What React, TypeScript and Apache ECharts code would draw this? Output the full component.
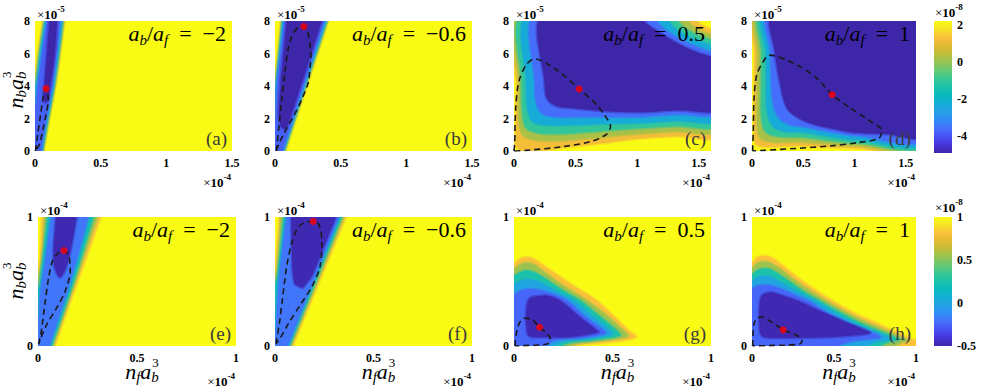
import React, { useEffect, useRef } from 'react';
import * as echarts from 'echarts';

type Pt = [number, number];

// ---------------- data ----------------
const PARULA = ['#3E26A8', '#4533D9', '#4851F2', '#4570FC', '#308CF5', '#26A1E6', '#14ADD6', '#08BABF', '#1AC2AB', '#38C794', '#66C973', '#94C454', '#BFBD3A', '#E0BA33', '#FCBF3B', '#F5E326', '#F9FB15'];

const topColorRange: Pt = [-4.9, 2.2];
const bottomColorRange: Pt = [-0.5, 1];
const topColorbarTicks = [-4, -2, 0, 2];
const bottomColorbarTicks = [-0.5, 0, 0.5, 1];

const panelLetters = ['(a)', '(b)', '(c)', '(d)', '(e)', '(f)', '(g)', '(h)'];
const ratioLabels = ['\u22122', '\u22120.6', '0.5', '1', '\u22122', '\u22120.6', '0.5', '1'];
const xMaxes = [1.5, 1.5, 1.6, 1.6, 1, 1, 1, 1];
const yMaxes = [8, 8, 8, 8, 1, 1, 1, 1];
const xTicksTop = [0, 0.5, 1, 1.5];
const xTicksBottom = [0, 0.5, 1];
const yTicksTop = [0, 2, 4, 6, 8];
const yTicksBottom = [0, 1];

// level-set regions (value < level) of each panel, outermost first
const levelsA = [1.0, -1.0, -2.5, -3.8, -4.9];
const shapesA: Pt[][] = [
  [[-0.02, -0.5], [0.06, -0.5], [0.066, 0], [0.1, 1.6], [0.16, 4.2], [0.2, 6.5], [0.224, 8], [0.23, 8.5], [0.068, 8.5], [0.06, 8], [0.022, 6], [-0.003, 4.2], [-0.02, 3.8]],
  [[-0.02, -0.5], [0.054, -0.5], [0.06, 0], [0.094, 1.6], [0.153, 4.2], [0.192, 6.5], [0.215, 8], [0.22, 8.5], [0.078, 8.5], [0.07, 8], [0.032, 6], [0.005, 4.2], [-0.02, 3.5]],
  [[-0.02, -0.5], [0.048, -0.5], [0.054, 0], [0.087, 1.6], [0.145, 4.2], [0.184, 6.5], [0.205, 8], [0.21, 8.5], [0.088, 8.5], [0.08, 8], [0.042, 6], [0.012, 4.2], [-0.02, 3.2]],
  [[-0.02, -0.5], [0.04, -0.5], [0.045, 0], [0.078, 1.6], [0.135, 4.2], [0.172, 6.5], [0.19, 8], [0.195, 8.5], [0.1, 8.5], [0.092, 8], [0.055, 6], [0.025, 4.2], [0.0, 2.5], [-0.02, 2]],
  [[0.075, 3.0], [0.095, 3.1], [0.12, 4.2], [0.15, 6.0], [0.168, 8], [0.168, 8.5], [0.118, 8.5], [0.11, 8], [0.09, 6], [0.073, 4.2], [0.066, 3.4]],
];
const loopA: Pt[] = [[0.003, 0.0], [0.02, 1.0], [0.04, 2.1], [0.058, 3.1], [0.07, 3.65], [0.084, 3.84], [0.097, 3.6], [0.101, 3.1], [0.085, 2.3], [0.06, 1.3], [0.033, 0.4], [0.003, 0.0]];
const dotA: Pt = [0.084, 3.84];

const levelsB = [1.0, -1.0, -2.5, -3.8, -4.9];
const shapesB: Pt[][] = [
  [[-0.02, -0.5], [0.07, -0.5], [0.078, 0], [0.405, 8], [0.43, 8.5], [0.05, 8.5], [0.045, 8], [0.0, 4.3], [-0.02, 4.0]],
  [[-0.02, -0.5], [0.064, -0.5], [0.072, 0], [0.397, 8], [0.42, 8.5], [0.058, 8.5], [0.053, 8], [0.006, 4.3], [-0.02, 3.6]],
  [[-0.02, -0.5], [0.058, -0.5], [0.066, 0], [0.388, 8], [0.41, 8.5], [0.066, 8.5], [0.061, 8], [0.012, 4.3], [-0.02, 3.2]],
  [[-0.01, -0.5], [0.05, -0.5], [0.058, 0], [0.375, 8], [0.395, 8.5], [0.078, 8.5], [0.073, 8], [0.018, 4.3], [0.004, 2], [-0.01, 0.5]],
  [[0.028, 2.2], [0.045, 1.5], [0.075, 1.35], [0.105, 1.75], [0.355, 8], [0.36, 8.5], [0.095, 8.5], [0.089, 8], [0.043, 4.2]],
];
const loopB: Pt[] = [[0.01, 0.0], [0.013, 0.2], [0.03, 1.5], [0.05, 3.1], [0.075, 4.8], [0.1, 6.3], [0.125, 7.0], [0.152, 7.4], [0.18, 7.62], [0.215, 7.68], [0.24, 7.5], [0.253, 7.2], [0.27, 6.3], [0.274, 5.9], [0.265, 5.0], [0.253, 4.2], [0.21, 3.3], [0.165, 2.5], [0.11, 1.7], [0.063, 1.0], [0.03, 0.45], [0.01, 0.0]];
const dotB: Pt = [0.22, 7.66];

const levelsC = [1.2, 0.2, -1.0, -2.3, -3.6, -4.9];
const shapesC: Pt[][] = [
  [[0.02, 8.5], [0.02, 4], [0.015, 1.5], [0.02, 0.3], [0.1, -0.1], [0.3, 0.1], [0.5, 0.3], [0.75, 0.5], [1.0, 0.75], [1.3, 0.9], [1.7, 1.05], [1.7, 7.45], [1.6, 7.5], [1.5, 7.9], [1.45, 8.5]],
  [[0.045, 8.5], [0.04, 4], [0.04, 1.8], [0.07, 1.0], [0.15, 0.7], [0.3, 0.62], [0.5, 0.7], [0.75, 0.88], [1.0, 1.05], [1.3, 1.2], [1.7, 1.4], [1.7, 7.1], [1.6, 7.15], [1.45, 7.7], [1.33, 8.5]],
  [[0.08, 8.5], [0.062, 4], [0.07, 2.2], [0.1, 1.4], [0.2, 1.1], [0.35, 1.05], [0.5, 1.1], [0.75, 1.25], [1.0, 1.38], [1.3, 1.52], [1.7, 1.7], [1.7, 6.8], [1.6, 6.85], [1.4, 7.5], [1.23, 8.5]],
  [[0.12, 8.5], [0.1, 4], [0.11, 2.6], [0.15, 1.8], [0.25, 1.6], [0.5, 1.6], [0.75, 1.68], [1.0, 1.72], [1.3, 1.85], [1.7, 2.02], [1.7, 6.45], [1.6, 6.5], [1.35, 7.3], [1.15, 8.5]],
  [[0.18, 8.5], [0.17, 4], [0.18, 3.0], [0.23, 2.3], [0.35, 2.1], [0.5, 2.1], [0.75, 2.1], [1.0, 2.1], [1.3, 2.25], [1.7, 2.42], [1.7, 6.05], [1.6, 6.1], [1.4, 6.7], [1.22, 7.5], [1.07, 8.5]],
  [[0.236, 8.5], [0.25, 4], [0.27, 3.2], [0.35, 2.75], [0.5, 2.62], [0.75, 2.45], [1.0, 2.38], [1.3, 2.5], [1.7, 2.65], [1.7, 5.75], [1.6, 5.8], [1.4, 6.35], [1.2, 7.2], [1.05, 8], [1.0, 8.5]],
];
const loopC: Pt[] = [[0, 0], [0.005, 0.41], [0.014, 2.65], [0.04, 4.29], [0.1, 5.31], [0.168, 5.67], [0.344, 5.0], [0.529, 3.82], [0.67, 2.86], [0.751, 2.04], [0.784, 1.53], [0.751, 1.02], [0.616, 0.57], [0.399, 0.27], [0.1, 0.04], [0, 0]];
const dotC: Pt = [0.529, 3.82];

const levelsD = [1.2, 0.2, -1.0, -2.3, -3.6, -4.9];
const shapesD: Pt[][] = [
  [[0.03, 8.5], [0.025, 6], [0.02, 4], [0.02, 1.2], [0.04, 0.4], [0.15, 0.25], [0.3, 0.28], [0.5, 0.3], [0.75, 0.23], [1.0, 0.17], [1.7, 0.14], [1.7, 8.5]],
  [[0.06, 8.5], [0.055, 6], [0.05, 4], [0.05, 1.6], [0.08, 0.8], [0.2, 0.55], [0.35, 0.55], [0.5, 0.55], [0.75, 0.42], [1.0, 0.33], [1.7, 0.29], [1.7, 8.5]],
  [[0.095, 8.5], [0.092, 6], [0.09, 4], [0.09, 2.2], [0.13, 1.2], [0.25, 0.9], [0.5, 0.85], [0.75, 0.65], [1.0, 0.5], [1.7, 0.46], [1.7, 8.5]],
  [[0.13, 8.5], [0.135, 6], [0.14, 4], [0.145, 2.6], [0.2, 1.55], [0.32, 1.2], [0.5, 1.15], [0.75, 0.9], [1.0, 0.7], [1.7, 0.63], [1.7, 8.5]],
  [[0.17, 8.5], [0.18, 6], [0.19, 4], [0.21, 2.8], [0.27, 2.0], [0.38, 1.6], [0.5, 1.5], [0.75, 1.2], [1.0, 0.95], [1.7, 0.83], [1.7, 8.5]],
  [[0.21, 8.5], [0.225, 6], [0.27, 4.3], [0.34, 2.65], [0.45, 2.05], [0.6, 1.65], [0.8, 1.35], [1.0, 1.12], [1.3, 1.05], [1.7, 1.0], [1.7, 7.8], [1.6, 7.95], [1.55, 8.5]],
];
const loopD: Pt[] = [[0.0065, 0], [0.0065, 0.1], [0.013, 1.22], [0.02, 3.26], [0.046, 4.68], [0.11, 5.5], [0.17, 5.9], [0.437, 5.3], [0.632, 4.48], [0.782, 3.46], [0.958, 2.65], [1.153, 1.83], [1.268, 1.26], [1.235, 0.77], [1.023, 0.51], [0.762, 0.31], [0.437, 0.16], [0.11, 0.04], [0.0065, 0]];
const dotD: Pt = [0.782, 3.46];

const levelsE = [0.82, 0.55, 0.2, -0.2, -0.48];
const shapesE: Pt[][] = [
  [[-0.05, -0.05], [0.078, -0.05], [0.085, 0], [0.2, 0.5], [0.318, 1.0], [0.33, 1.05], [0.022, 1.05], [0.02, 1.0], [0.0, 0.58], [-0.05, 0.5]],
  [[-0.05, -0.05], [0.07, -0.05], [0.077, 0], [0.19, 0.5], [0.3, 1.0], [0.31, 1.05], [0.035, 1.05], [0.033, 1.0], [0.008, 0.58], [-0.05, 0.45]],
  [[-0.05, -0.05], [0.062, -0.05], [0.069, 0], [0.18, 0.5], [0.28, 1.0], [0.29, 1.05], [0.05, 1.05], [0.048, 1.0], [0.016, 0.58], [0, 0.45], [-0.05, 0.4]],
  [[-0.05, -0.05], [0.052, -0.05], [0.058, 0], [0.165, 0.5], [0.255, 1.0], [0.26, 1.05], [0.068, 1.05], [0.066, 1.0], [0.03, 0.6], [0.01, 0.4], [0.0, 0.2], [-0.05, 0.1]],
  [[0.085, 0.6], [0.11, 0.53], [0.14, 0.6], [0.17, 0.78], [0.195, 1.0], [0.2, 1.05], [0.09, 1.05], [0.09, 1.0], [0.08, 0.8], [0.078, 0.68]],
];
const loopE: Pt[] = [[0.003, 0.013], [0.017, 0.117], [0.037, 0.351], [0.054, 0.532], [0.074, 0.662], [0.101, 0.719], [0.131, 0.74], [0.155, 0.701], [0.163, 0.584], [0.138, 0.429], [0.096, 0.299], [0.045, 0.169], [0.012, 0.052], [0.003, 0.013]];
const dotE: Pt = [0.131, 0.74];

const levelsF = [0.82, 0.55, 0.2, -0.2, -0.48];
const shapesF: Pt[][] = [
  [[-0.02, -0.05], [0.085, -0.05], [0.09, 0], [0.36, 1.0], [0.37, 1.05], [0.03, 1.05], [0.022, 1.0], [0.0, 0.55], [-0.02, 0.5]],
  [[-0.02, -0.05], [0.077, -0.05], [0.082, 0], [0.35, 1.0], [0.355, 1.05], [0.035, 1.05], [0.03, 1.0], [0.006, 0.55], [-0.02, 0.45]],
  [[-0.02, -0.05], [0.069, -0.05], [0.074, 0], [0.338, 1.0], [0.343, 1.05], [0.048, 1.05], [0.045, 1.0], [0.013, 0.55], [-0.02, 0.35]],
  [[0.0, -0.05], [0.06, -0.05], [0.065, 0], [0.325, 1.0], [0.33, 1.05], [0.062, 1.05], [0.058, 1.0], [0.022, 0.55], [0.008, 0.25]],
  [[0.1, 0.48], [0.14, 0.45], [0.19, 0.55], [0.31, 1.0], [0.315, 1.05], [0.085, 1.05], [0.082, 1.0], [0.088, 0.6]],
];
const loopF: Pt[] = [[0.005, 0.018], [0.022, 0.173], [0.037, 0.354], [0.059, 0.612], [0.084, 0.793], [0.118, 0.922], [0.16, 0.961], [0.194, 0.966], [0.225, 0.935], [0.238, 0.793], [0.228, 0.612], [0.186, 0.457], [0.127, 0.315], [0.068, 0.173], [0.025, 0.057], [0.005, 0.018]];
const dotF: Pt = [0.194, 0.966];

const levelsG = [0.82, 0.55, 0.25, 0.0, -0.25, -0.48];
const shapesG: Pt[][] = [
  [[-0.05, -0.05], [0.25, -0.05], [0.32, 0.005], [0.45, 0.025], [0.56, 0.045], [0.62, 0.07], [0.6, 0.1], [0.58, 0.123], [0.5, 0.24], [0.42, 0.354], [0.33, 0.44], [0.25, 0.52], [0.15, 0.625], [0.1, 0.675], [0.065, 0.69], [0.03, 0.675], [0, 0.64], [-0.05, 0.63]],
  [[-0.05, -0.05], [0.22, -0.05], [0.3, 0.01], [0.42, 0.035], [0.52, 0.055], [0.58, 0.075], [0.57, 0.1], [0.554, 0.123], [0.46, 0.25], [0.368, 0.354], [0.29, 0.43], [0.21, 0.51], [0.14, 0.59], [0.097, 0.635], [0.06, 0.645], [0.03, 0.63], [0, 0.6], [-0.05, 0.59]],
  [[-0.05, -0.05], [0.19, -0.05], [0.27, 0.02], [0.4, 0.045], [0.5, 0.065], [0.54, 0.085], [0.53, 0.105], [0.52, 0.123], [0.42, 0.25], [0.334, 0.354], [0.26, 0.42], [0.19, 0.49], [0.13, 0.55], [0.097, 0.575], [0.06, 0.585], [0.03, 0.57], [0, 0.545], [-0.05, 0.54]],
  [[-0.05, -0.05], [0.16, -0.05], [0.24, 0.03], [0.36, 0.055], [0.46, 0.075], [0.5, 0.095], [0.49, 0.115], [0.486, 0.123], [0.39, 0.24], [0.3, 0.354], [0.23, 0.41], [0.16, 0.47], [0.12, 0.5], [0.097, 0.51], [0.06, 0.515], [0.03, 0.5], [0, 0.48], [-0.05, 0.47]],
  [[-0.05, -0.05], [0.12, -0.05], [0.2, 0.04], [0.32, 0.06], [0.42, 0.08], [0.465, 0.1], [0.453, 0.123], [0.36, 0.23], [0.266, 0.354], [0.2, 0.4], [0.14, 0.43], [0.097, 0.44], [0.06, 0.44], [0.03, 0.425], [0, 0.4], [-0.05, 0.39]],
  [[0.063, 0.3], [0.065, 0.12], [0.08, 0.075], [0.15, 0.068], [0.28, 0.07], [0.38, 0.09], [0.43, 0.11], [0.42, 0.123], [0.33, 0.23], [0.232, 0.354], [0.17, 0.39], [0.12, 0.385], [0.08, 0.37]],
];
const loopG: Pt[] = [[0.005, 0.0], [0.01, 0.08], [0.025, 0.17], [0.05, 0.215], [0.085, 0.21], [0.13, 0.146], [0.165, 0.1], [0.185, 0.055], [0.175, 0.02], [0.12, 0.008], [0.05, 0.003], [0.005, 0.0]];
const dotG: Pt = [0.13, 0.146];

const levelsH = [0.82, 0.55, 0.25, 0.0, -0.25, -0.48];
const shapesH: Pt[][] = [
  [[-0.05, -0.05], [1.05, -0.05], [1.05, 0.025], [0.98, 0.05], [0.93, 0.08], [0.84, 0.13], [0.72, 0.2], [0.6, 0.27], [0.49, 0.35], [0.38, 0.44], [0.28, 0.53], [0.18, 0.63], [0.12, 0.685], [0.07, 0.7], [0.03, 0.685], [0, 0.645], [-0.05, 0.64]],
  [[-0.05, -0.05], [0.8, -0.05], [0.9, 0.02], [0.95, 0.045], [0.9, 0.075], [0.81, 0.125], [0.69, 0.19], [0.57, 0.265], [0.46, 0.345], [0.36, 0.425], [0.26, 0.51], [0.17, 0.6], [0.11, 0.645], [0.07, 0.655], [0.03, 0.64], [0, 0.605], [-0.05, 0.6]],
  [[-0.05, -0.05], [0.7, -0.05], [0.82, 0.025], [0.9, 0.05], [0.85, 0.08], [0.76, 0.125], [0.65, 0.185], [0.53, 0.265], [0.42, 0.345], [0.33, 0.41], [0.24, 0.49], [0.16, 0.56], [0.11, 0.595], [0.07, 0.6], [0.03, 0.585], [0, 0.555], [-0.05, 0.55]],
  [[-0.05, -0.05], [0.6, -0.05], [0.75, 0.03], [0.85, 0.055], [0.8, 0.085], [0.72, 0.125], [0.61, 0.185], [0.5, 0.26], [0.39, 0.345], [0.3, 0.405], [0.22, 0.46], [0.15, 0.51], [0.11, 0.535], [0.07, 0.54], [0.03, 0.53], [0, 0.505], [-0.05, 0.5]],
  [[-0.05, -0.05], [0.4, -0.05], [0.6, 0.035], [0.78, 0.065], [0.76, 0.09], [0.68, 0.125], [0.57, 0.185], [0.46, 0.255], [0.35, 0.345], [0.27, 0.39], [0.2, 0.43], [0.14, 0.46], [0.1, 0.47], [0.07, 0.47], [0.03, 0.465], [0, 0.445], [-0.05, 0.44]],
  [[0.045, 0.3], [0.05, 0.1], [0.08, 0.068], [0.2, 0.062], [0.4, 0.065], [0.6, 0.08], [0.71, 0.095], [0.72, 0.105], [0.68, 0.13], [0.6, 0.17], [0.5, 0.225], [0.4, 0.28], [0.29, 0.345], [0.2, 0.385], [0.14, 0.41], [0.1, 0.415], [0.06, 0.39]],
];
const loopH: Pt[] = [[0.004, 0.0], [0.006, 0.08], [0.012, 0.17], [0.03, 0.215], [0.06, 0.225], [0.1, 0.2], [0.15, 0.16], [0.19, 0.125], [0.24, 0.1], [0.29, 0.07], [0.305, 0.04], [0.29, 0.015], [0.2, 0.008], [0.1, 0.003], [0.004, 0.0]];
const dotH: Pt = [0.19, 0.125];

// ---------------- layout & style ----------------
const SERIF = 'Liberation Serif';
const BOXES = [
  { left: 35, top: 21, width: 197, height: 130 },
  { left: 275, top: 21, width: 197, height: 130 },
  { left: 514, top: 21, width: 197, height: 130 },
  { left: 752, top: 21, width: 164, height: 130 },
  { left: 38, top: 217, width: 198, height: 129 },
  { left: 275, top: 217, width: 197, height: 129 },
  { left: 514, top: 217, width: 197, height: 129 },
  { left: 752, top: 217, width: 164, height: 129 },
];
const CB_BOXES = [
  { left: 934, top: 21, width: 18, height: 132 },
  { left: 934, top: 217, width: 18, height: 129 },
];
const SMOOTH = [0.3, 0.12, 0.35, 0.35, 0.3, 0.12, 0.35, 0.35];
const MATH_SIZE = 22;
const SUB_SIZE = 15;
const SUP_SIZE = 13;

const titleRich = {
  i: { fontFamily: SERIF, fontStyle: 'italic', fontSize: MATH_SIZE, lineHeight: 28, fill: '#000', align: 'left' },
  n: { fontFamily: SERIF, fontSize: MATH_SIZE, lineHeight: 28, fill: '#000', align: 'left' },
  s: { fontFamily: SERIF, fontStyle: 'italic', fontSize: SUB_SIZE, lineHeight: SUB_SIZE, verticalAlign: 'bottom', fill: '#000', align: 'left' },
};
const expRich = {
  x: { fontFamily: SERIF, fontSize: 13, lineHeight: 20, fill: '#000', align: 'left' },
  n: { fontFamily: SERIF, fontWeight: 'bold', fontSize: 13, lineHeight: 20, fill: '#000', align: 'left' },
  p: { fontFamily: SERIF, fontWeight: 'bold', fontSize: 9, lineHeight: 9, verticalAlign: 'top', fill: '#000', align: 'left' },
};

let measureCtx: CanvasRenderingContext2D | null = null;
function textWidth(text: string, font: string) {
  if (!measureCtx) measureCtx = document.createElement('canvas').getContext('2d');
  if (!measureCtx) return text.length * 8;
  measureCtx.font = font;
  return measureCtx.measureText(text).width;
}

function expText(x: number, y: number, power: string, align: string) {
  return {
    type: 'text', x, y, silent: true, z: 10,
    style: { text: `{x|\u00d7}{n|10}{p|${power}}`, rich: expRich, align, verticalAlign: 'middle' },
  };
}

function glyph(text: string, x: number, y: number, size: number, italic: boolean) {
  return {
    type: 'text', x, y,
    style: {
      text, fontFamily: SERIF, fontSize: size, fontStyle: italic ? 'italic' : 'normal',
      lineHeight: Math.round(size * 0.6), fill: '#000', align: 'left', verticalAlign: 'middle',
    },
  };
}

// n_{sub} a_b^3 with the 3 stacked over the b
function densityLabel(x: number, y: number, sub: string, rotation: number) {
  const it = `italic ${MATH_SIZE}px ${SERIF}`;
  const its = `italic ${SUB_SIZE}px ${SERIF}`;
  const wN = textWidth('n', it);
  const wSub = textWidth(sub, its);
  const wA = textWidth('a', it);
  const wB = textWidth('b', its);
  const total = wN + wSub + wA + wB;
  const x0 = -total / 2;
  return {
    type: 'group', x, y, rotation, silent: true, z: 10,
    children: [
      glyph('n', x0, 0, MATH_SIZE, true),
      glyph(sub, x0 + wN, 6, SUB_SIZE, true),
      glyph('a', x0 + wN + wSub, 0, MATH_SIZE, true),
      glyph('b', x0 + wN + wSub + wA, 6, SUB_SIZE, true),
      glyph('3', x0 + wN + wSub + wA + 1, -9, SUP_SIZE, false),
    ],
  };
}

function buildOption() {
  const panels = [
    { levels: levelsA, shapes: shapesA, loop: loopA, dot: dotA },
    { levels: levelsB, shapes: shapesB, loop: loopB, dot: dotB },
    { levels: levelsC, shapes: shapesC, loop: loopC, dot: dotC },
    { levels: levelsD, shapes: shapesD, loop: loopD, dot: dotD },
    { levels: levelsE, shapes: shapesE, loop: loopE, dot: dotE },
    { levels: levelsF, shapes: shapesF, loop: loopF, dot: dotF },
    { levels: levelsG, shapes: shapesG, loop: loopG, dot: dotG },
    { levels: levelsH, shapes: shapesH, loop: loopH, dot: dotH },
  ];
  const grid: any[] = [];
  const xAxis: any[] = [];
  const yAxis: any[] = [];
  const series: any[] = [];
  const graphic: any[] = [];
  const topHeat: number[] = [];
  const bottomHeat: number[] = [];
  const tickLabel = { fontFamily: SERIF, fontWeight: 'bold', fontSize: 12, lineHeight: 11, color: '#000' };

  panels.forEach((p, i) => {
    const b = BOXES[i];
    const top = i < 4;
    grid.push({
      left: b.left, top: b.top, width: b.width, height: b.height,
      containLabel: false, outerBoundsMode: 'none',
      show: true, backgroundColor: PARULA[PARULA.length - 1], borderWidth: 0,
    });
    xAxis.push({
      gridIndex: i, type: 'value', min: 0, max: xMaxes[i],
      axisLine: { show: false }, axisTick: { show: false }, splitLine: { show: false },
      axisLabel: { ...tickLabel, margin: 6, customValues: top ? xTicksTop : xTicksBottom },
    });
    yAxis.push({
      gridIndex: i, type: 'value', min: 0, max: yMaxes[i],
      axisLine: { show: false }, axisTick: { show: false }, splitLine: { show: false },
      axisLabel: { ...tickLabel, margin: 5, customValues: top ? yTicksTop : yTicksBottom },
    });
    const shapes = p.shapes;
    const sm = SMOOTH[i];
    (top ? topHeat : bottomHeat).push(series.length);
    series.push({
      type: 'custom', xAxisIndex: i, yAxisIndex: i, clip: true, silent: true, z: 1,
      data: p.levels.map((v, k) => [v, k]),
      renderItem: (_params: any, api: any) => {
        const k = api.value(1) as number;
        const pts = shapes[k].map((q) => api.coord(q));
        const col = api.visual('color');
        return {
          type: 'polygon', shape: { points: pts, smooth: sm },
          style: { fill: col, stroke: col, lineWidth: 3, strokeOpacity: 0.45 },
        };
      },
    });
    series.push({
      type: 'line', xAxisIndex: i, yAxisIndex: i, data: p.loop, showSymbol: false, symbol: 'none',
      smooth: 0.3, silent: true, z: 3,
      lineStyle: { color: '#1a1a1a', width: 1.6, type: [6, 4] },
    });
    series.push({
      type: 'scatter', xAxisIndex: i, yAxisIndex: i, data: [p.dot], symbolSize: 7, silent: true, z: 4,
      itemStyle: { color: '#ff0000' },
    });

    const right = b.left + b.width;
    const bottom = b.top + b.height;
    graphic.push({
      type: 'text', x: right - 6, y: b.top + 12, silent: true, z: 10,
      style: { text: `{i|a}{s|b}{n|/}{i|a}{s|f}{n|\u2002=\u2002${ratioLabels[i]}}`, rich: titleRich, align: 'right', verticalAlign: 'middle' },
    });
    graphic.push({
      type: 'text', x: right - 5, y: bottom - 13, silent: true, z: 10,
      style: { text: panelLetters[i], fontFamily: SERIF, fontSize: 19, fill: '#3a3a3a', align: 'right', verticalAlign: 'middle' },
    });
    graphic.push(expText(b.left + 2, b.top - 7, top ? '-5' : '-4', 'left'));
    graphic.push(expText(right - 1, bottom + (top ? 31 : 35), '-4', 'right'));
    if (!top) graphic.push(densityLabel(b.left + b.width / 2 + 5, 371, 'f', 0));
  });

  // y-axis titles
  graphic.push(densityLabel(15, 90, 'b', Math.PI / 2));
  graphic.push(densityLabel(15, 281, 'b', Math.PI / 2));

  // colorbars
  [0, 1].forEach((r) => {
    const gi = 8 + r;
    const cb = CB_BOXES[r];
    const range = r === 0 ? topColorRange : bottomColorRange;
    grid.push({ left: cb.left, top: cb.top, width: cb.width, height: cb.height, containLabel: false, outerBoundsMode: 'none' });
    xAxis.push({ gridIndex: gi, type: 'value', min: 0, max: 1, show: false });
    yAxis.push({
      gridIndex: gi, type: 'value', min: range[0], max: range[1], position: 'right',
      axisLine: { show: false }, axisTick: { show: false }, splitLine: { show: false },
      axisLabel: { ...tickLabel, margin: 5, customValues: r === 0 ? topColorbarTicks : bottomColorbarTicks },
    });
    series.push({
      type: 'custom', xAxisIndex: gi, yAxisIndex: gi, silent: true,
      data: [[0, range[0], 1, range[1]]],
      encode: { x: [0, 2], y: [1, 3] },
      renderItem: (_params: any, api: any) => {
        const a = api.coord([api.value(0), api.value(3)]);
        const c = api.coord([api.value(2), api.value(1)]);
        return {
          type: 'rect',
          shape: { x: a[0], y: a[1], width: c[0] - a[0], height: c[1] - a[1] },
          style: {
            fill: new echarts.graphic.LinearGradient(0, 1, 0, 0,
              PARULA.map((col, k) => ({ offset: k / (PARULA.length - 1), color: col }))),
          },
        };
      },
    });
    graphic.push(expText(cb.left + 1, r === 0 ? 12 : 207, '-8', 'left'));
  });

  return {
    animation: false,
    backgroundColor: '#ffffff',
    textStyle: { fontFamily: SERIF },
    grid, xAxis, yAxis, series,
    visualMap: [
      { type: 'continuous', show: false, seriesIndex: topHeat, dimension: 0, min: topColorRange[0], max: topColorRange[1], inRange: { color: PARULA } },
      { type: 'continuous', show: false, seriesIndex: bottomHeat, dimension: 0, min: bottomColorRange[0], max: bottomColorRange[1], inRange: { color: PARULA } },
    ],
    graphic: { elements: graphic },
  };
}

export default function App() {
  const ref = useRef<HTMLDivElement>(null);
  useEffect(() => {
    if (!ref.current) return;
    const chart = echarts.init(ref.current, undefined, { renderer: 'svg' });
    chart.setOption(buildOption() as any);
    return () => chart.dispose();
  }, []);
  return <div ref={ref} style={{ position: 'fixed', left: 0, top: 0, width: 981, height: 392, background: '#fff' }} />;
}
